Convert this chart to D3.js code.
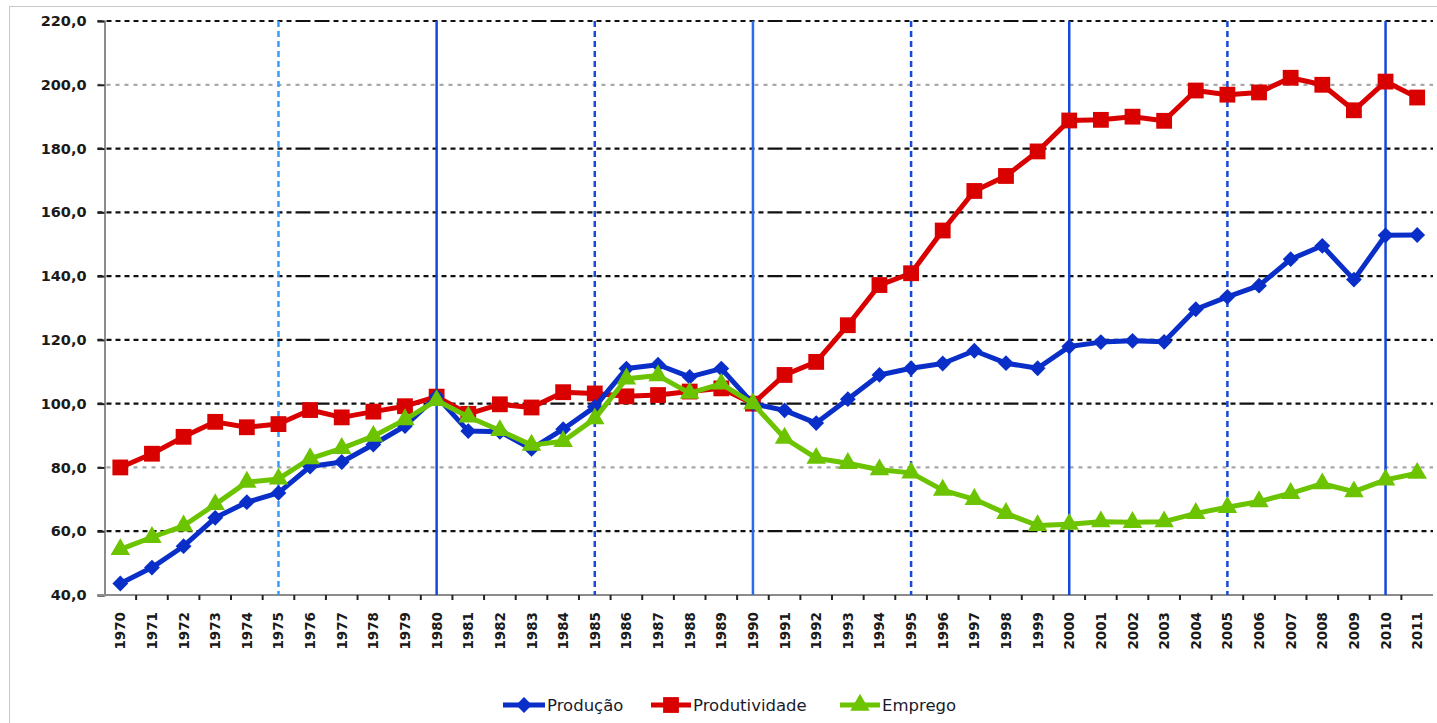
<!DOCTYPE html>
<html>
<head>
<meta charset="utf-8">
<script src="https://cdn.jsdelivr.net/npm/d3@7"></script>
<style>
  body { margin: 0; background: #fff; }
  svg { display: block; }
</style>
</head>
<body>
<svg id="chart" width="1437" height="723"></svg>
<script>
const years = ["1970","1971","1972","1973","1974","1975","1976","1977","1978","1979",
  "1980","1981","1982","1983","1984","1985","1986","1987","1988","1989",
  "1990","1991","1992","1993","1994","1995","1996","1997","1998","1999",
  "2000","2001","2002","2003","2004","2005","2006","2007","2008","2009",
  "2010","2011"];

const producao = [43.6, 48.6, 55.3, 64.2, 69.1, 72.0, 80.3, 81.7, 87.2, 93.0,
  102.3, 91.4, 91.2, 85.8, 92.0, 99.0, 111.0, 112.2, 108.4, 111.0,
  100.0, 97.9, 93.9, 101.4, 109.0, 111.1, 112.6, 116.6, 112.7, 111.1,
  117.9, 119.3, 119.7, 119.4, 129.6, 133.5, 137.0, 145.3, 149.5, 138.9,
  152.8, 152.9];

const produtividade = [80.0, 84.3, 89.6, 94.3, 92.6, 93.6, 98.0, 95.7, 97.5, 99.2,
  102.2, 96.8, 99.8, 98.8, 103.6, 103.2, 102.3, 102.7, 103.8, 104.8,
  100.0, 109.0, 113.1, 124.6, 137.2, 140.9, 154.3, 166.7, 171.4, 179.1,
  188.8, 189.0, 190.0, 188.7, 198.2, 196.9, 197.6, 202.2, 200.0, 192.0,
  201.0, 196.0];

const emprego = [54.3, 58.1, 61.7, 68.4, 75.4, 76.4, 82.8, 86.0, 89.8, 95.0,
  101.0, 95.9, 91.6, 87.0, 88.2, 95.3, 107.8, 108.8, 103.3, 106.2,
  100.0, 89.2, 82.9, 81.3, 79.3, 78.3, 72.9, 70.0, 65.6, 61.8,
  62.2, 63.0, 62.8, 63.0, 65.6, 67.5, 69.3, 71.9, 74.9, 72.4,
  76.1, 78.2];

const yTicks = [40, 60, 80, 100, 120, 140, 160, 180, 200, 220];
const solidYears = ["1980", "1990", "2000", "2010"];
const dashedYears = ["1975", "1985", "1995", "2005"];

const svg = d3.select("#chart");
const margin = { top: 21, right: 4, bottom: 128, left: 104.5 };
const width = 1437, height = 723;

// outer chart frame
svg.append("rect")
  .attr("x", 9.5).attr("y", 6.5)
  .attr("width", width).attr("height", height)
  .attr("fill", "none").attr("stroke", "#c9c9c9").attr("stroke-width", 1);

const x = d3.scaleBand()
  .domain(years)
  .range([margin.left, width - margin.right]);

const y = d3.scaleLinear()
  .domain([40, 220])
  .range([height - margin.bottom, margin.top]);

const fmt = v => d3.format(".1f")(v).replace(".", ",");

// horizontal gridlines
const gridDash = d3.range(22).map(() => "5,4").concat(["15,4,15,4"]).join(",");
svg.append("g").selectAll("line")
  .data(yTicks.filter(d => d > 40))
  .join("line")
  .attr("x1", margin.left - 7)
  .attr("x2", width - margin.right)
  .attr("y1", d => y(d)).attr("y2", d => y(d))
  .attr("stroke", d => (d === 200 || d === 80) ? "#a8a8a8" : "#111")
  .attr("stroke-width", 2.2)
  .attr("stroke-dasharray", d => (d === 200 || d === 80) ? "4,5" : gridDash);

// y axis
const yAxis = svg.append("g")
  .attr("transform", `translate(${margin.left},0)`)
  .call(d3.axisLeft(y).tickValues(yTicks).tickFormat(fmt).tickSize(7).tickPadding(11));
yAxis.select(".domain").attr("stroke", "#8c8c8c").attr("stroke-width", 2);
yAxis.selectAll(".tick line").attr("stroke", "#222").attr("stroke-width", 2);
yAxis.selectAll("text")
  .attr("font-family", "DejaVu Sans")
  .attr("font-weight", "bold")
  .attr("font-size", 14.5)
  .attr("fill", "#1a1a1a");

// x axis (ticks between categories)
const xAxisG = svg.append("g")
  .attr("transform", `translate(0,${y(40)})`);
xAxisG.append("line")
  .attr("x1", margin.left - 7).attr("x2", width - margin.right)
  .attr("stroke", "#8c8c8c").attr("stroke-width", 2);
xAxisG.selectAll("line.tk")
  .data(years.slice(1))
  .join("line")
  .attr("class", "tk")
  .attr("x1", d => x(d)).attr("x2", d => x(d))
  .attr("y1", 0).attr("y2", 5)
  .attr("stroke", "#222").attr("stroke-width", 2);
xAxisG.selectAll("text")
  .data(years)
  .join("text")
  .attr("transform", d => `translate(${x(d) + x.bandwidth() / 2 + 5},${17}) rotate(-90)`)
  .attr("text-anchor", "end")
  .attr("font-family", "DejaVu Sans")
  .attr("font-weight", "bold")
  .attr("font-size", 13.5)
  .attr("fill", "#1a1a1a")
  .text(d => d);

// vertical reference lines
const cx = d => x(d) + x.bandwidth() / 2;
svg.append("g").selectAll("line")
  .data(dashedYears)
  .join("line")
  .attr("x1", cx).attr("x2", cx)
  .attr("y1", y(220)).attr("y2", y(40))
  .attr("stroke", d => d === "1975" ? "#3a9cff" : "#1549d6")
  .attr("stroke-width", 2.5)
  .attr("stroke-dasharray", "6,4");
svg.append("g").selectAll("line")
  .data(solidYears)
  .join("line")
  .attr("x1", cx).attr("x2", cx)
  .attr("y1", y(220)).attr("y2", y(40))
  .attr("stroke", d => d === "1990" ? "#2a6af0" : "#1548d8")
  .attr("stroke-width", 2.5);

// series
const series = [
  { name: "Produção", values: producao, color: "#0a2fc8", symbol: "diamond" },
  { name: "Produtividade", values: produtividade, color: "#d90000", symbol: "square" },
  { name: "Emprego", values: emprego, color: "#6cc400", symbol: "triangle" }
];

const symbolPath = s => {
  if (s === "square") return d3.symbol(d3.symbolSquare, 250)();
  if (s === "diamond") return d3.symbol(d3.symbolSquare, 125)();
  return d3.symbol(d3.symbolTriangle, 165)();
};
const symbolRot = s => s === "diamond" ? " rotate(45)" : "";

const line = d3.line()
  .x((d, i) => cx(years[i]))
  .y(d => y(d));

// draw in order: produtividade, producao, emprego (green on top as in the original)
[series[1], series[0], series[2]].forEach(s => {
  const g = svg.append("g");
  g.append("path")
    .datum(s.values)
    .attr("d", line)
    .attr("fill", "none")
    .attr("stroke", s.color)
    .attr("stroke-width", 5)
    .attr("stroke-linejoin", "round");
  g.selectAll("path.pt")
    .data(s.values)
    .join("path")
    .attr("class", "pt")
    .attr("d", symbolPath(s.symbol))
    .attr("transform", (d, i) => `translate(${cx(years[i])},${y(d)})${symbolRot(s.symbol)}`)
    .attr("fill", s.color);
});

// legend
const legendItems = [
  { s: series[0], x: 503, w: 42 },
  { s: series[1], x: 651, w: 40 },
  { s: series[2], x: 840, w: 40 }
];
const lg = svg.append("g").attr("transform", "translate(0,705)");
legendItems.forEach(it => {
  lg.append("line")
    .attr("x1", it.x).attr("x2", it.x + it.w)
    .attr("stroke", it.s.color).attr("stroke-width", 5);
  lg.append("path")
    .attr("d", symbolPath(it.s.symbol))
    .attr("transform", `translate(${it.x + it.w / 2},0)${symbolRot(it.s.symbol)}`)
    .attr("fill", it.s.color);
  lg.append("text")
    .attr("x", it.x + it.w + 2)
    .attr("y", 5.5)
    .attr("font-family", "DejaVu Sans")
    .attr("font-size", 16.5)
    .attr("fill", "#1a1a2a")
    .text(it.s.name);
});
</script>
</body>
</html>
